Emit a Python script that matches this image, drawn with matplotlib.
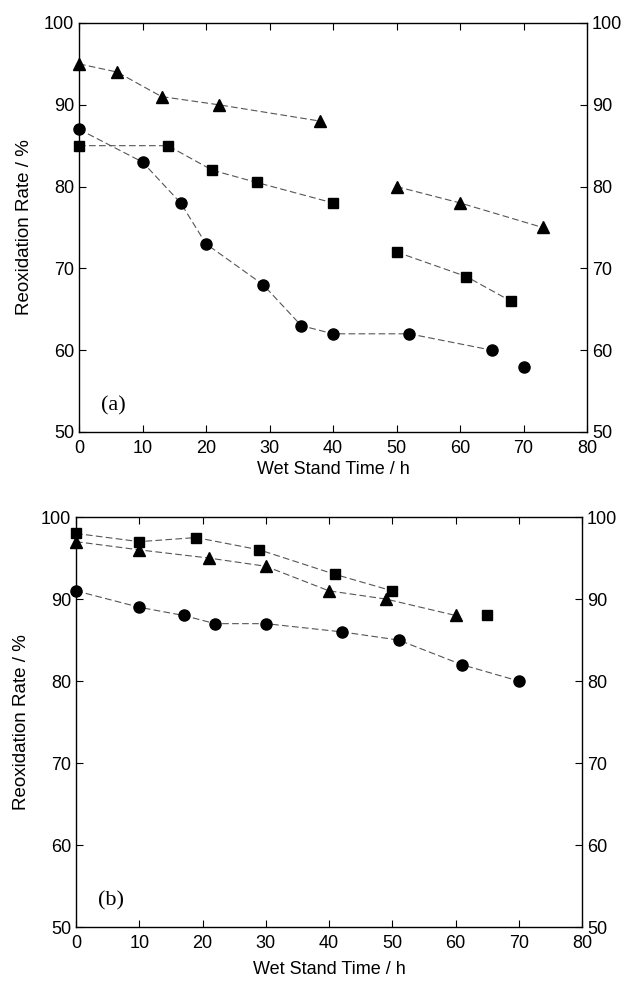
import matplotlib.pyplot as plt

plt.rcParams['font.family'] = ['Liberation Sans', 'DejaVu Sans']

# panel (a): each series is split into segments where the line is broken
a_tri = [([0, 6, 13, 22, 38], [95, 94, 91, 90, 88]),
         ([50, 60, 73], [80, 78, 75])]
a_sq = [([0, 14, 21, 28, 40], [85, 85, 82, 80.5, 78]),
        ([50, 61, 68], [72, 69, 66])]
a_circ = [([0, 10, 16, 20, 29, 35, 40, 52, 65], [87, 83, 78, 73, 68, 63, 62, 62, 60]),
          ([70], [58])]

# panel (b)
b_sq = [([0, 10, 19, 29, 41, 50], [98, 97, 97.5, 96, 93, 91]),
        ([65], [88])]
b_tri = [([0, 10, 21, 30, 40, 49, 60], [97, 96, 95, 94, 91, 90, 88])]
b_circ = [([0, 10, 17, 22, 30, 42, 51, 61, 70], [91, 89, 88, 87, 87, 86, 85, 82, 80])]

xticks = [0, 10, 20, 30, 40, 50, 60, 70, 80]
yticks = [50, 60, 70, 80, 90, 100]


def draw_series(ax, segments, marker, ms):
    for xs, ys in segments:
        ax.plot(xs, ys, color='#555555', lw=0.8, ls=(0, (6, 3)), zorder=1)
        ax.plot(xs, ys, ls='none', marker=marker, ms=ms, color='black',
                zorder=3, clip_on=False)


def style_axes(ax, tag, xpad):
    ax.set_xlim(0, 80)
    ax.set_ylim(50, 100)
    ax.set_xticks(xticks)
    ax.set_yticks(yticks)
    ax.tick_params(direction='in', length=5, width=0.8, labelsize=13,
                   top=True, right=True, labelright=True)
    ax.tick_params(axis='x', pad=6)
    for sp in ax.spines.values():
        sp.set_linewidth(1.0)
    ax.set_xlabel('Wet Stand Time / h', fontsize=13, labelpad=xpad)
    ax.set_ylabel('Reoxidation Rate / %', fontsize=13.5, labelpad=8)
    ax.text(3.5, 52.6, tag, fontsize=16, family=['Liberation Serif', 'DejaVu Serif'])


fig = plt.figure(figsize=(6.25, 9.86), dpi=100)
ax1 = fig.add_axes([0.1264, 0.5619, 0.8128, 0.4148])
ax2 = fig.add_axes([0.1216, 0.0598, 0.8096, 0.4158])

draw_series(ax1, a_tri, '^', 8)
draw_series(ax1, a_sq, 's', 7)
draw_series(ax1, a_circ, 'o', 8)
style_axes(ax1, '(a)', 3)

draw_series(ax2, b_sq, 's', 7)
draw_series(ax2, b_tri, '^', 8)
draw_series(ax2, b_circ, 'o', 8)
style_axes(ax2, '(b)', 6)

fig.savefig('out.png', dpi=100)
